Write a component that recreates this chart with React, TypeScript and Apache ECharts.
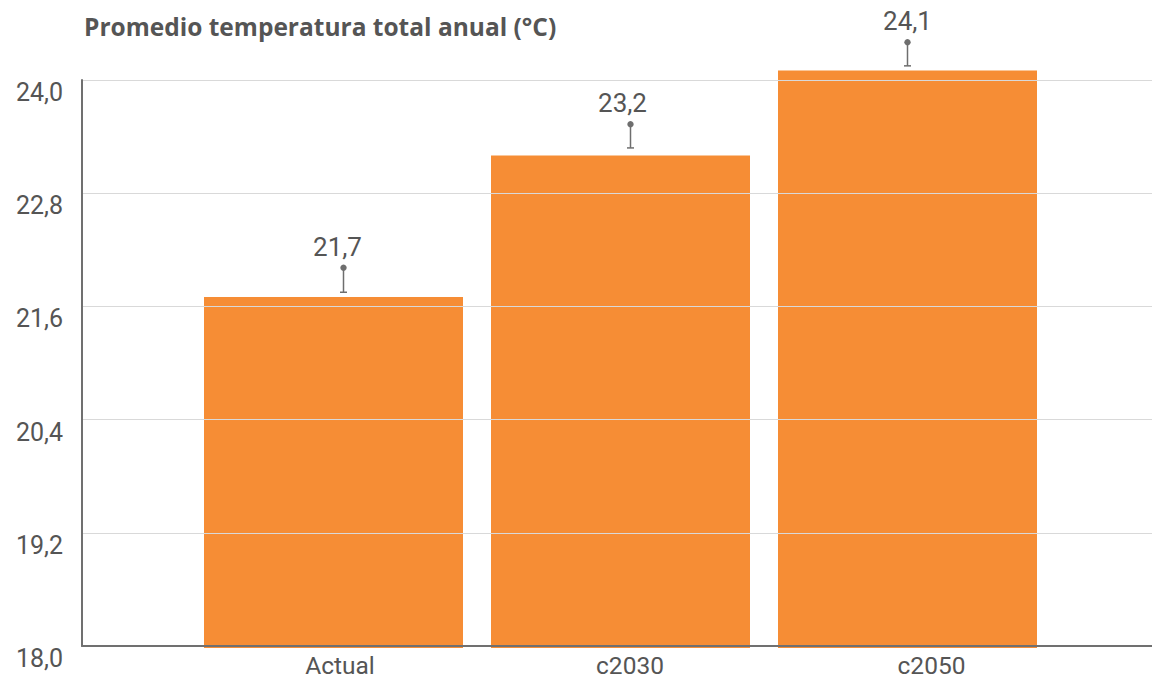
import React, { useEffect, useRef } from "react";
import * as echarts from "echarts";

const categories = ["Actual", "c2030", "c2050"];
const values = [21.7, 23.2, 24.1];
const errorLow = [21.75, 23.28, 24.15];
const errorHigh = [22.01, 23.53, 24.4];
const yTicks = { min: 18, max: 24, interval: 1.2 };
const barAxisMax = 24.6;
const titleText = "Promedio temperatura total anual (°C)";

const FONT = "Roboto";
const TEXT = "#555555";
const ORANGE = "#F68D35";
const errShiftPx = [10, 10, 0];
const labelShiftPx = [4, 2, 0];
const xLabelPad = [13, 19, 48];

const fmt = (v: number) => v.toFixed(1).replace(".", ",");

export default function App() {
  const ref = useRef<HTMLDivElement>(null);
  useEffect(() => {
    if (!ref.current) return;
    const chart = echarts.init(ref.current, null, { renderer: "svg" });
    const rich: Record<string, any> = {};
    categories.forEach((_, i) => {
      rich["s" + i] = {
        fontSize: 24.5,
        lineHeight: 22,
        color: TEXT,
        fontFamily: FONT,
        padding: [0, 0, 0, xLabelPad[i]],
      };
    });
    const plotTop = 80;
    const plotBottom = 34;
    const barBottom = 32;
    const pxPerUnit = (680 - plotTop - plotBottom) / (yTicks.max - yTicks.min);
    const barTop = plotTop - (barAxisMax - yTicks.max) * pxPerUnit;
    const barYMin = yTicks.min - (plotBottom - barBottom) / pxPerUnit;
    chart.setOption({
      animation: false,
      backgroundColor: "#ffffff",
      title: {
        text: titleText,
        left: 79,
        top: 9,
        textStyle: { fontSize: 24.5, fontWeight: "bold", color: TEXT, fontFamily: "Open Sans" },
      },
      grid: [
        { left: 82, right: 0, top: plotTop, bottom: plotBottom },
        { left: 190, right: 101, top: barTop, bottom: barBottom },
      ],
      xAxis: [
        {
          type: "value",
          gridIndex: 0,
          min: 0,
          max: 1,
          z: 5,
          axisLabel: { show: false },
          axisTick: { show: false },
          splitLine: { show: false },
          axisLine: { show: true, lineStyle: { color: "#707070", width: 2 } },
        },
        {
          type: "category",
          gridIndex: 1,
          data: categories,
          axisLine: { show: false },
          axisTick: { show: false },
          axisLabel: {
            margin: 6,
            fontSize: 24.5,
            lineHeight: 22,
            color: TEXT,
            fontFamily: FONT,
            formatter: (v: string, i: number) => `{s${i}|${v}}`,
            rich,
          },
        },
      ],
      yAxis: [
        {
          type: "value",
          gridIndex: 0,
          min: yTicks.min,
          max: yTicks.max,
          interval: yTicks.interval,
          z: 5,
          axisLine: { show: true, lineStyle: { color: "#707070", width: 2 } },
          axisTick: { show: false },
          splitLine: { show: true, lineStyle: { color: "#d9d9d9", width: 1 } },
          axisLabel: {
            formatter: (v: number) => fmt(v),
            fontSize: 25,
            color: TEXT,
            fontFamily: FONT,
            margin: 19,
            verticalAlign: "top",
          },
        },
        {
          type: "value",
          gridIndex: 1,
          min: barYMin,
          max: barAxisMax,
          show: false,
          splitLine: { show: false },
        },
      ],
      series: [
        {
          type: "bar",
          xAxisIndex: 1,
          yAxisIndex: 1,
          data: values,
          barWidth: 259,
          itemStyle: { color: ORANGE },
        },
        {
          type: "custom",
          xAxisIndex: 1,
          yAxisIndex: 1,
          clip: false,
          z: 5,
          data: categories.map((_, i) => [i, errorLow[i], errorHigh[i], values[i]]),
          renderItem: (params: any, api: any) => {
            const i = api.value(0);
            const lo = api.coord([i, api.value(1)]);
            const hi = api.coord([i, api.value(2)]);
            const x = lo[0] + errShiftPx[params.dataIndex];
            const lx = lo[0] + labelShiftPx[params.dataIndex];
            const stroke = "#6e6e6e";
            return {
              type: "group",
              children: [
                { type: "line", shape: { x1: x, y1: lo[1], x2: x, y2: hi[1] }, style: { stroke, lineWidth: 1.5 } },
                { type: "line", shape: { x1: x - 3.5, y1: lo[1], x2: x + 3.5, y2: lo[1] }, style: { stroke, lineWidth: 1.5 } },
                { type: "circle", shape: { cx: x, cy: hi[1], r: 3.2 }, style: { fill: stroke } },
                {
                  type: "text",
                  x: lx,
                  y: hi[1] - 21,
                  style: {
                    text: fmt(api.value(3)),
                    fontSize: 26,
                    fontFamily: FONT,
                    fill: TEXT,
                    align: "center",
                    verticalAlign: "middle",
                  },
                },
              ],
            };
          },
        },
      ],
    });
    return () => chart.dispose();
  }, []);
  return (
    <div
      ref={ref}
      style={{ position: "fixed", left: 0, top: 0, width: 1152, height: 680 }}
    />
  );
}
